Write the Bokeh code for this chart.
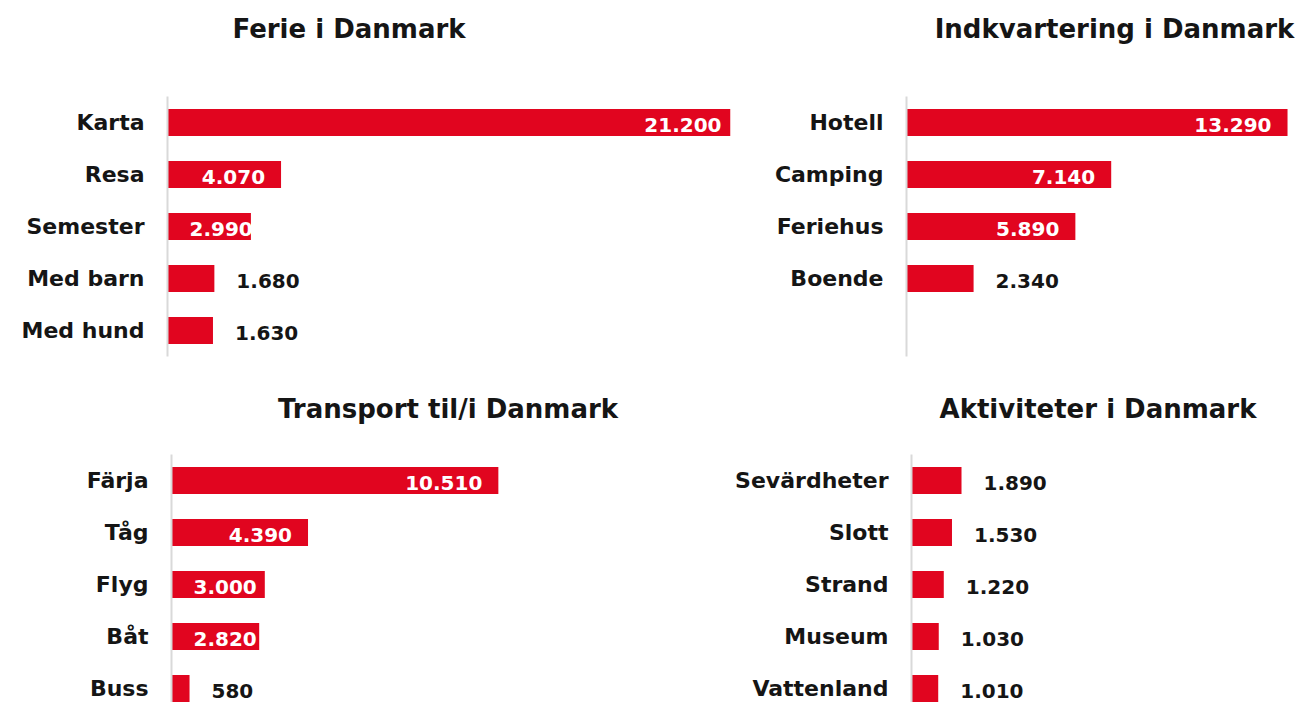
from bokeh.plotting import figure
from bokeh.models import ColumnDataSource, Range1d, FixedTicker, Label
from bokeh.layouts import column, row
from bokeh.embed import file_html
from bokeh.resources import INLINE
from bokeh.core.properties import value

# ---------------- data ----------------
ferie_cats = ["Karta", "Resa", "Semester", "Med barn", "Med hund"]
ferie_vals = [21200, 4070, 2990, 1680, 1630]

indk_cats = ["Hotell", "Camping", "Feriehus", "Boende"]
indk_vals = [13290, 7140, 5890, 2340]

transp_cats = ["Färja", "Tåg", "Flyg", "Båt", "Buss"]
transp_vals = [10510, 4390, 3000, 2820, 580]

akt_cats = ["Sevärdheter", "Slott", "Strand", "Museum", "Vattenland"]
akt_vals = [1890, 1530, 1220, 1030, 1010]

titles = ["Ferie i Danmark", "Indkvartering i Danmark",
          "Transport til/i Danmark", "Aktiviteter i Danmark"]

# ---------------- style ----------------
RED = "#e1051f"
INK = "#151515"
FONT = "DejaVu Sans"
LABEL_SIZE = 20
INSIDE_MIN = 2500
SLOT = 52  # pixels per category row


def fmt(v):
    return f"{v:,}".replace(",", ".")


def text_w(s, size):
    return sum(0.38 if c == "." else 0.696 for c in s) * size


def panel(cats, vals, title, width, height, left, right, bars_top,
          xmax, title_cx, title_base):
    fw = width - left - right
    px = fw / xmax
    y_top = -0.5 - bars_top / SLOT
    y_bot = -0.5 + (height - bars_top) / SLOT
    p = figure(width=width, height=height,
               x_range=Range1d(0, xmax), y_range=Range1d(y_bot, y_top),
               output_backend="svg", toolbar_location=None,
               x_axis_location=None,
               min_border_left=left, min_border_right=right,
               min_border_top=0, min_border_bottom=0)
    ys = list(range(len(cats)))
    p.hbar(y=ys, left=0, right=vals, height=0.52,
           fill_color=RED, line_color=None)

    groups = {"in_right": dict(x=[], y=[], t=[], o=[]),
              "in_left": dict(x=[], y=[], t=[], o=[]),
              "out": dict(x=[], y=[], t=[], o=[])}
    for y, v in zip(ys, vals):
        s = fmt(v)
        if v >= INSIDE_MIN:
            bar_px = min(v, xmax) * px
            if bar_px - 16 - text_w(s, LABEL_SIZE) < 22:
                g = groups["in_left"]; g["x"].append(0); g["o"].append(22)
            else:
                g = groups["in_right"]; g["x"].append(min(v, xmax))
                g["o"].append(-16 if v <= xmax else -9)
        else:
            g = groups["out"]; g["x"].append(v); g["o"].append(22)
        g["y"].append(y); g["t"].append(s)

    for name, g in groups.items():
        if not g["x"]:
            continue
        src = ColumnDataSource(g)
        p.text(x="x", y="y", text="t", x_offset="o", y_offset=2, source=src,
               text_align="right" if name == "in_right" else "left",
               text_baseline="middle",
               text_color="white" if name.startswith("in") else INK,
               text_font=value(FONT), text_font_style="bold",
               text_font_size=f"{LABEL_SIZE}px")

    ax = p.yaxis[0]
    ax.ticker = FixedTicker(ticks=ys)
    ax.bounds = (-0.5, 4.5)
    ax.major_label_overrides = {i: c for i, c in zip(ys, cats)}
    ax.major_tick_out = 0
    ax.major_tick_in = 0
    ax.minor_tick_out = 0
    ax.minor_tick_in = 0
    ax.major_label_standoff = 23
    ax.axis_line_color = "#d9d9d9"
    ax.axis_line_width = 2
    ax.major_label_text_font = FONT
    ax.major_label_text_font_style = "bold"
    ax.major_label_text_font_size = "22px"
    ax.major_label_text_color = INK

    p.grid.visible = False
    p.outline_line_color = None
    p.background_fill_color = "white"
    p.border_fill_color = "white"

    p.add_layout(Label(x=title_cx - left, y=height - title_base,
                       x_units="screen", y_units="screen",
                       text=title, text_align="center", text_baseline="alphabetic",
                       text_font=FONT, text_font_style="bold",
                       text_font_size="26px", text_color=INK))
    return p


# top row: canvas y 0..374, bottom row: 374..702
p1 = panel(ferie_cats, ferie_vals, titles[0], 748, 374, 167, 18, 96,
           20180, 348.5, 28)
p2 = panel(indk_cats, indk_vals, titles[1], 547, 374, 158, 0, 96,
           13568, 1114 - 748, 28)
p3 = panel(transp_cats, transp_vals, titles[2], 700, 328, 171, 0, 80,
           17010, 447.5, 34)
p4 = panel(akt_cats, akt_vals, titles[3], 595, 328, 211, 0, 80,
           14512, 1097.5 - 700, 34)

layout = column(row(p1, p2), row(p3, p4))
open("out.html", "w").write(file_html(layout, INLINE))
